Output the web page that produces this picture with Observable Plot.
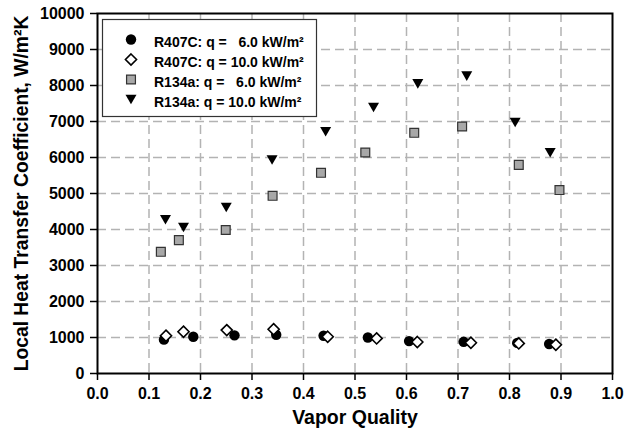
<!DOCTYPE html>
<html>
<head>
<meta charset="utf-8">
<script src="https://cdn.jsdelivr.net/npm/d3@7"></script>
<script src="https://cdn.jsdelivr.net/npm/@observablehq/plot@0.6"></script>
<style>
  body { margin: 0; background: #fff; }
  #chart { position: relative; width: 625px; height: 436px; font-family: "Liberation Sans", Arial, sans-serif; }
  #legend { position: absolute; left: 0; top: 0; }
</style>
</head>
<body>
<div id="chart"></div>
<script>
// Local heat transfer coefficient vs vapor quality, R407C and R134a at two heat fluxes
const quality407_6 = [0.129, 0.186, 0.266, 0.347, 0.439, 0.525, 0.605, 0.711, 0.815, 0.877];
const htc407_6     = [940, 1020, 1060, 1075, 1050, 1000, 900, 880, 850, 820];

const quality407_10 = [0.133, 0.167, 0.251, 0.342, 0.447, 0.542, 0.621, 0.725, 0.818, 0.890];
const htc407_10     = [1050, 1160, 1205, 1230, 1020, 975, 875, 855, 835, 800];

const quality134_6 = [0.123, 0.158, 0.249, 0.340, 0.434, 0.520, 0.615, 0.708, 0.818, 0.897];
const htc134_6     = [3380, 3705, 3985, 4935, 5575, 6140, 6685, 6860, 5795, 5095];

const quality134_10 = [0.132, 0.167, 0.250, 0.339, 0.443, 0.536, 0.622, 0.717, 0.811, 0.879];
const htc134_10     = [4270, 4055, 4610, 5930, 6715, 7390, 8045, 8260, 6970, 6130];

const seriesLabels = [
  "R407C: q =   6.0 kW/m²",
  "R407C: q = 10.0 kW/m²",
  "R134a: q =   6.0 kW/m²",
  "R134a: q = 10.0 kW/m²"
];

const xTicks = [0, 0.1, 0.2, 0.3, 0.4, 0.5, 0.6, 0.7, 0.8, 0.9, 1.0];
const yTicks = [0, 1000, 2000, 3000, 4000, 5000, 6000, 7000, 8000, 9000, 10000];
const xTitle = "Vapor Quality";
const yTitle = "Local Heat Transfer Coefficient, W/m²K";

// downward-pointing triangle symbol
const triangleDown = {
  draw(ctx, size) {
    const s = Math.sqrt(size), w = s * 0.62, h = s * 0.54;
    ctx.moveTo(-w, -h);
    ctx.lineTo(w, -h);
    ctx.lineTo(0, h);
    ctx.closePath();
  }
};

const rows = (xs, ys) => xs.map((x, i) => ({x, y: ys[i]}));

const styles = [
  {symbol: "circle", r: 5.2, fill: "black", stroke: "none", strokeWidth: 0},
  {symbol: "diamond2", r: 5, fill: "white", stroke: "black", strokeWidth: 1.6},
  {symbol: "square", r: 5, fill: "#a8a8a8", stroke: "#333", strokeWidth: 1.2},
  {symbol: triangleDown, r: 5, fill: "black", stroke: "none", strokeWidth: 0}
];
const series = [
  rows(quality407_6, htc407_6),
  rows(quality407_10, htc407_10),
  rows(quality134_6, htc134_6),
  rows(quality134_10, htc134_10)
];

const gridStyle = {stroke: "#b3b3b3", strokeOpacity: 1, strokeWidth: 1.5, strokeDasharray: "9,5"};

const plot = Plot.plot({
  width: 625,
  height: 436,
  marginLeft: 97,
  marginRight: 13,
  marginTop: 13,
  marginBottom: 63,
  style: {fontFamily: "'Liberation Sans', Arial, sans-serif", fontWeight: "bold", color: "black", background: "white"},
  x: {domain: [0, 1]},
  y: {domain: [0, 10000]},
  marks: [
    Plot.gridX(xTicks.slice(1, -1), gridStyle),
    Plot.gridY(yTicks.slice(1, -1), gridStyle),
    Plot.axisX({ticks: xTicks, tickFormat: d3.format(".1f"), tickSize: 7, tickPadding: 7, strokeWidth: 1.5, fontSize: 16, label: null}),
    Plot.axisY({ticks: yTicks, tickFormat: d3.format("d"), tickSize: 7, tickPadding: 6, strokeWidth: 1.5, fontSize: 16, label: null}),
    Plot.text([xTitle], {frameAnchor: "bottom", dy: 50, fontSize: 19.5, fontWeight: "bold", fill: "black"}),
    Plot.text([yTitle], {frameAnchor: "left", textAnchor: "middle", dx: -76, rotate: -90, fontSize: 19.3, fontWeight: "bold", fill: "black"}),
    ...series.map((data, i) => Plot.dot(data, {x: "x", y: "y", ...styles[i]})),
    Plot.frame({stroke: "black", strokeWidth: 2})
  ]
});

const chart = document.getElementById("chart");
chart.appendChild(plot);

// legend box inside the plot area
const legend = d3.select(chart).append("svg")
  .attr("id", "legend")
  .attr("width", 625)
  .attr("height", 436)
  .style("pointer-events", "none");

legend.append("rect")
  .attr("x", 102.5).attr("y", 19.5)
  .attr("width", 214).attr("height", 97)
  .attr("fill", "white").attr("stroke", "#333").attr("stroke-width", 1.2);

seriesLabels.forEach((label, i) => {
  const cy = 39.5 + i * 20;
  const st = styles[i];
  const type = st.symbol === "circle" ? d3.symbolCircle
    : st.symbol === "diamond2" ? d3.symbolDiamond2
    : st.symbol === "square" ? d3.symbolSquare
    : st.symbol;
  legend.append("path")
    .attr("transform", `translate(131,${cy})`)
    .attr("d", d3.symbol(type, Math.PI * st.r * st.r)())
    .attr("fill", st.fill)
    .attr("stroke", st.stroke)
    .attr("stroke-width", st.strokeWidth);
  legend.append("text")
    .attr("x", 154).attr("y", cy + 7)
    .attr("font-family", "'Liberation Sans', Arial, sans-serif")
    .attr("font-weight", "bold")
    .attr("font-size", 14)
    .attr("xml:space", "preserve")
    .style("white-space", "pre")
    .text(label);
});
</script>
</body>
</html>
